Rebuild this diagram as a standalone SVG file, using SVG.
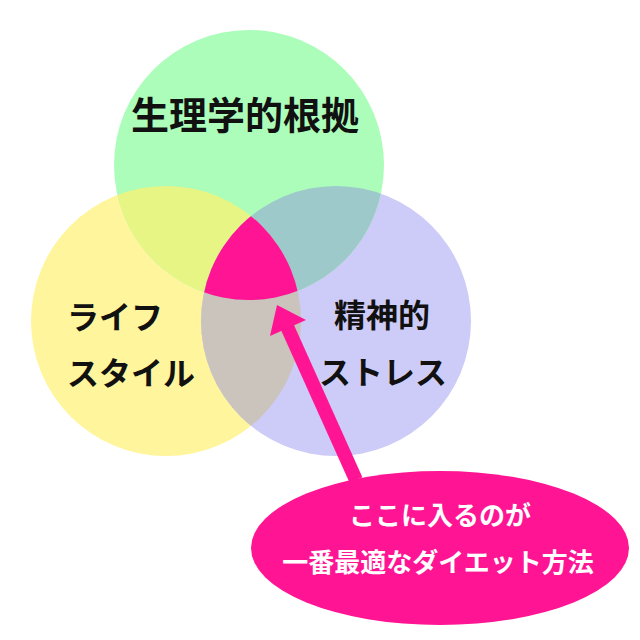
<svg xmlns="http://www.w3.org/2000/svg" width="640" height="640" viewBox="0 0 640 640">
<style>
.lbl{font-family:"Noto Sans CJK JP","Noto Sans CJK SC",sans-serif;font-weight:700;fill:#111;}
.wl{font-family:"Noto Sans CJK JP","Noto Sans CJK SC",sans-serif;font-weight:700;fill:#fff;font-size:26px;text-anchor:middle;}
.pink{fill:#ff1493;}
</style>
<defs>
<clipPath id="cG"><circle cx="249" cy="165" r="135"/></clipPath>
<clipPath id="cY"><circle cx="166" cy="321" r="135"/></clipPath>
<clipPath id="cP"><circle cx="336" cy="321" r="135"/></clipPath>
</defs>
<rect width="640" height="640" fill="#fff"/>
<g id="lifestyle">
<circle cx="166" cy="321" r="135" fill="#fff59c"/>
</g>
<g id="stress">
<circle cx="336" cy="321" r="135" fill="#cdcbf7"/>
</g>
<g id="physiology">
<circle cx="249" cy="165" r="135" fill="#abfdb9"/>
</g>
<g id="overlaps">
<g clip-path="url(#cY)"><circle cx="249" cy="165" r="135" fill="#e7f585"/></g>
<g clip-path="url(#cP)"><circle cx="249" cy="165" r="135" fill="#9ec9cb"/></g>
<g clip-path="url(#cY)"><circle cx="336" cy="321" r="135" fill="#cbc4bd"/></g>
<g clip-path="url(#cY)"><g clip-path="url(#cP)"><circle cx="249" cy="165" r="135" class="pink"/></g></g>
</g>
<g id="labels">
<text class="lbl" x="245" y="129" font-size="38" text-anchor="middle">生理学的根拠</text>
<text class="lbl" x="67" y="329" font-size="32">ライフ</text>
<text class="lbl" x="67" y="385" font-size="32">スタイル</text>
<text class="lbl" x="382" y="327" font-size="32" text-anchor="middle">精神的</text>
<text class="lbl" x="383" y="384" font-size="32" text-anchor="middle">ストレス</text>
</g>
<g id="connectors">
<line x1="356" y1="480" x2="285" y2="322" stroke="#ff1493" stroke-width="14"/>
<polygon points="277,305 306,320 270,336" class="pink"/>
</g>
<g id="callout">
<ellipse cx="440" cy="548" rx="189" ry="77" class="pink"/>
<text class="wl" x="440" y="525">ここに入るのが</text>
<text class="wl" x="438" y="572">一番最適なダイエット方法</text>
</g>
</svg>
